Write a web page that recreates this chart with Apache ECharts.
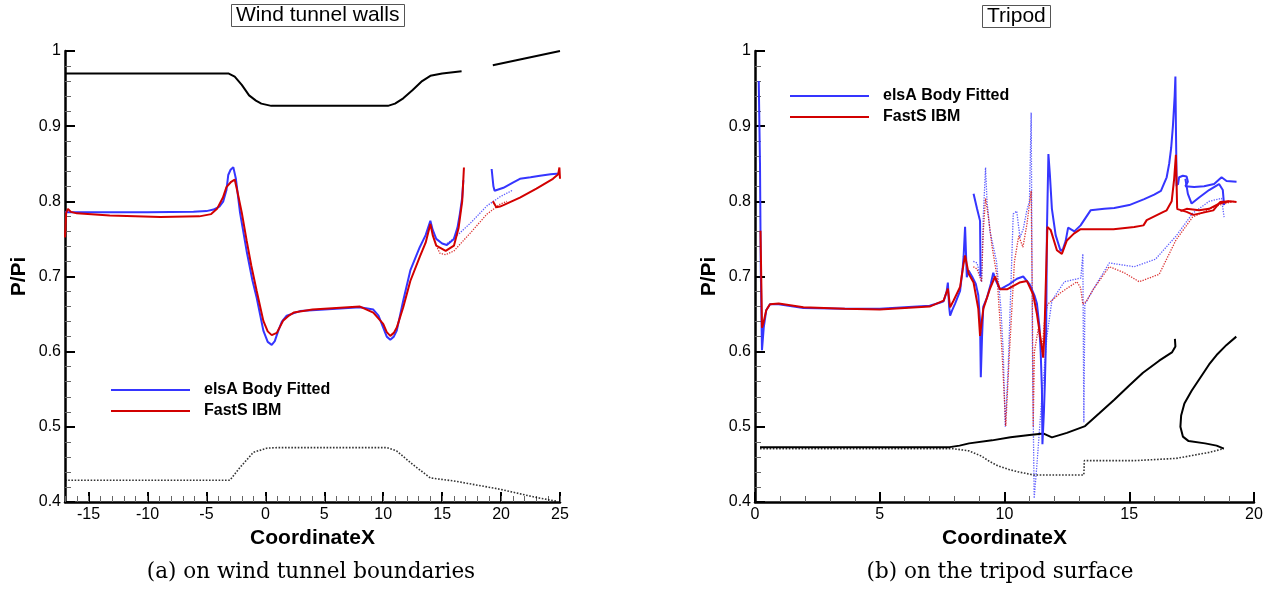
<!DOCTYPE html>
<html>
<head>
<meta charset="utf-8">
<script src="https://cdn.jsdelivr.net/npm/echarts@6/dist/echarts.min.js"></script>
<style>
  html, body { margin: 0; padding: 0; background: #fff; }
  #chart { width: 1282px; height: 596px; }
</style>
</head>
<body>
<div id="chart"></div>
<script>
// P/Pi 分布：左 = 风洞壁面，右 = 三脚架表面

// ---- 左图：wind tunnel walls ----
const wtTopA = [[-17,0.97],[-3.1,0.97],[-2.6,0.966],[-2.0,0.955],[-1.38,0.941],[-0.8,0.934],[-0.34,0.93],[0.5,0.927],[10.4,0.927],[11.0,0.93],[11.7,0.937],[12.5,0.948],[13.3,0.96],[14.0,0.967],[15.0,0.97],[16.65,0.973]];
const wtTopB = [[19.3,0.981],[22,0.99],[25,1.0]];
const wtBottom = [[-17,0.429],[-3.0,0.429],[-2.15,0.446],[-1.02,0.466],[0.11,0.4716],[1,0.4724],[10.28,0.4724],[11.13,0.468],[12.5,0.45],[14.0,0.432],[16,0.428],[19.9,0.417],[23.0,0.406],[24.7,0.401]];

const wtBlueA = [[-17,0.786],[-16.8,0.7855],[-10,0.7855],[-6.1,0.786],[-5,0.787],[-4.4,0.789],[-3.9,0.793],[-3.57,0.8],[-3.3,0.815],[-3.15,0.835],[-2.95,0.842],[-2.72,0.8455],[-2.5,0.83],[-2.15,0.785],[-1.59,0.734],[-1.1,0.695],[-0.74,0.672],[-0.17,0.628],[0.2,0.613],[0.54,0.609],[0.8,0.614],[1.1,0.628],[1.4,0.64],[1.81,0.648],[2.94,0.654],[5,0.656],[8.03,0.659],[9.16,0.656],[9.6,0.648],[10.0,0.632],[10.3,0.62],[10.6,0.616],[10.9,0.62],[11.15,0.628],[11.7,0.668],[12.3,0.708],[13.1,0.739],[13.6,0.755],[14.0,0.774],[14.2,0.762],[14.5,0.75],[15.0,0.744],[15.4,0.742],[16.0,0.75],[16.3,0.765],[16.5,0.783],[16.7,0.805],[16.8,0.828]];
const wtBlueB = [[19.2,0.843],[19.35,0.82],[19.45,0.814],[20.2,0.818],[21.0,0.825],[21.6,0.83],[22.5,0.832],[23.3,0.834],[24.2,0.836],[24.95,0.837]];
const wtRedA = [[-17,0.752],[-16.9,0.785],[-16.75,0.79],[-16.5,0.786],[-16.0,0.784],[-13.2,0.781],[-8.9,0.779],[-5.6,0.78],[-4.6,0.783],[-4.1,0.79],[-3.6,0.805],[-3.3,0.819],[-2.9,0.826],[-2.6,0.829],[-2.4,0.815],[-2.0,0.785],[-1.59,0.748],[-1.2,0.715],[-0.74,0.681],[-0.17,0.641],[0.2,0.627],[0.54,0.622],[0.97,0.625],[1.5,0.641],[2.0,0.648],[2.4,0.652],[4,0.656],[8.03,0.66],[9.16,0.652],[10.0,0.637],[10.3,0.626],[10.6,0.621],[10.9,0.625],[11.15,0.632],[11.7,0.659],[12.3,0.694],[13.1,0.726],[13.6,0.745],[14.0,0.77],[14.2,0.755],[14.5,0.741],[15.3,0.734],[16.0,0.741],[16.4,0.765],[16.7,0.8],[16.85,0.845]];
const wtRedB = [[19.3,0.8],[19.6,0.792],[19.9,0.793],[20.2,0.795],[21.6,0.805],[23.0,0.817],[24.4,0.83],[24.85,0.836],[24.95,0.845],[25.0,0.83]];
const wtBlueDot = [[15.4,0.744],[15.7,0.747],[16.5,0.758],[17.4,0.771],[18.8,0.794],[19.9,0.806],[21.0,0.815]];
const wtRedDot = [[14.6,0.738],[14.8,0.731],[15.3,0.729],[16.0,0.734],[17.4,0.758],[18.8,0.783],[19.9,0.796],[20.5,0.8]];

// ---- 右图：tripod ----
const trBlueA = [[0.15,0.96],[0.2,0.85],[0.23,0.713],[0.28,0.602],[0.35,0.632],[0.45,0.655],[0.6,0.663],[0.95,0.663],[1.94,0.658],[3.6,0.657],[5,0.657],[7.0,0.661],[7.4,0.665],[7.56,0.667],[7.68,0.68],[7.73,0.692],[7.78,0.66],[7.82,0.648],[7.9,0.655],[8.02,0.664],[8.22,0.681],[8.32,0.71],[8.36,0.726],[8.42,0.766],[8.49,0.699],[8.56,0.708],[8.7,0.70],[8.85,0.69],[8.95,0.675],[9.02,0.64],[9.05,0.566],[9.1,0.62],[9.15,0.66],[9.3,0.672],[9.45,0.69],[9.55,0.705],[9.65,0.695],[9.82,0.683],[10.2,0.69],[10.5,0.697],[10.75,0.70],[11.0,0.69],[11.2,0.675],[11.3,0.664],[11.4,0.633],[11.45,0.6],[11.5,0.55],[11.52,0.477],[11.58,0.52],[11.62,0.56],[11.67,0.627],[11.7,0.76],[11.76,0.863],[11.82,0.835],[11.9,0.79],[12.05,0.755],[12.25,0.734],[12.35,0.737],[12.45,0.747],[12.55,0.765],[12.65,0.763],[12.8,0.76],[13.05,0.768],[13.25,0.778],[13.45,0.788],[14.0,0.79],[14.4,0.791],[15.0,0.795],[15.6,0.803],[16.0,0.809],[16.27,0.814],[16.5,0.832],[16.6,0.85],[16.68,0.871],[16.75,0.9],[16.82,0.94],[16.85,0.966],[16.87,0.9],[16.9,0.82]];
const trBlueB = [[8.76,0.81],[8.9,0.79],[9.02,0.774],[9.04,0.7]];
const trBlueC = [[16.95,0.822],[17.0,0.832],[17.15,0.834],[17.3,0.833],[17.35,0.826],[17.25,0.82],[17.6,0.819],[18.0,0.82],[18.4,0.823],[18.7,0.832],[18.9,0.827],[19.3,0.826]];
const trBlueD = [[17.25,0.83],[17.35,0.81],[17.5,0.797],[17.8,0.805],[18.2,0.815],[18.6,0.823],[18.75,0.815],[18.8,0.795]];
const trRedA = [[0.22,0.761],[0.25,0.7],[0.28,0.632],[0.35,0.64],[0.45,0.655],[0.6,0.663],[0.95,0.664],[1.94,0.659],[3.6,0.657],[5,0.656],[7.0,0.66],[7.56,0.668],[7.73,0.684],[7.82,0.659],[7.96,0.668],[8.22,0.686],[8.36,0.717],[8.42,0.728],[8.56,0.704],[8.76,0.692],[8.95,0.657],[9.02,0.621],[9.15,0.657],[9.42,0.684],[9.62,0.7],[9.82,0.683],[10.1,0.683],[10.6,0.692],[10.9,0.694],[11.15,0.676],[11.3,0.65],[11.48,0.61],[11.55,0.592],[11.6,0.623],[11.68,0.72],[11.72,0.766],[11.85,0.762],[12.1,0.735],[12.3,0.73],[12.5,0.748],[12.78,0.757],[13.05,0.763],[14.37,0.763],[15.2,0.766],[15.57,0.768],[15.7,0.775],[16.37,0.786],[16.5,0.788],[16.7,0.8],[16.8,0.83],[16.87,0.862],[16.9,0.82],[16.92,0.79]];
const trRedB = [[16.9,0.79],[17.3,0.786],[17.57,0.782],[18.1,0.786],[18.37,0.788],[18.64,0.799],[19.04,0.8],[19.3,0.799]];
const trRedC = [[17.05,0.787],[17.3,0.79],[17.8,0.788],[18.2,0.79],[18.6,0.797],[19.0,0.8]];
const trBlueDot = [[8.75,0.72],[8.9,0.718],[9.08,0.693],[9.15,0.78],[9.24,0.845],[9.3,0.8],[9.42,0.76],[9.68,0.72],[9.85,0.66],[9.95,0.6],[10.03,0.5],[10.15,0.58],[10.35,0.783],[10.49,0.787],[10.62,0.752],[10.75,0.763],[10.89,0.787],[11.0,0.8],[11.07,0.918],[11.12,0.6],[11.19,0.405],[11.3,0.45],[11.49,0.536],[11.7,0.62],[11.9,0.668],[12.4,0.693],[13.06,0.698],[13.14,0.73],[13.18,0.506],[13.22,0.663],[13.56,0.683],[14.2,0.718],[15.2,0.713],[16.05,0.723],[16.88,0.754],[17.54,0.784],[18.2,0.8],[18.7,0.804],[18.8,0.779]];
const trRedDot = [[8.75,0.713],[8.9,0.71],[9.08,0.693],[9.15,0.76],[9.24,0.804],[9.35,0.78],[9.5,0.74],[9.7,0.7],[9.9,0.6],[10.05,0.501],[10.2,0.6],[10.4,0.72],[10.57,0.754],[10.74,0.739],[10.9,0.77],[11.07,0.814],[11.12,0.65],[11.15,0.5],[11.2,0.6],[11.35,0.63],[11.5,0.6],[11.6,0.64],[11.73,0.663],[12.23,0.678],[12.9,0.693],[13.05,0.685],[13.14,0.663],[13.3,0.668],[13.56,0.683],[14.2,0.713],[14.8,0.705],[15.4,0.693],[16.2,0.703],[16.88,0.749],[17.54,0.779],[18.5,0.794],[19.2,0.8]];
const trBlackA = [[0.2,0.473],[7.8,0.473],[8.2,0.475],[8.58,0.478],[9.5,0.482],[10.24,0.486],[11.0,0.489],[11.57,0.491],[11.9,0.486],[12.5,0.492],[13.23,0.501],[13.8,0.518],[14.4,0.536],[15.0,0.555],[15.55,0.572],[16.2,0.588],[16.71,0.599],[16.85,0.607],[16.83,0.617]];
const trBlackB = [[19.29,0.62],[18.9,0.609],[18.54,0.597],[18.2,0.583],[17.88,0.567],[17.5,0.548],[17.21,0.531],[17.08,0.515],[17.05,0.5],[17.15,0.487],[17.38,0.481],[18.04,0.478],[18.5,0.475],[18.79,0.471]];
const trBlackDot = [[0.2,0.471],[7.92,0.471],[8.58,0.468],[9.08,0.461],[9.4,0.454],[9.74,0.448],[10.2,0.443],[10.57,0.44],[11.15,0.436],[13.18,0.436],[13.2,0.455],[15.2,0.455],[16.88,0.458],[18.2,0.466],[18.79,0.471]];

const BLUE = '#3535ff';
const RED = '#d20000';
const SANS = 'Liberation Sans';
const LEGEND_NAMES = ['elsA Body Fitted', 'FastS IBM'];

function seg(data, color, opts) {
  opts = opts || {};
  return {
    type: 'line',
    name: opts.name,
    data: data,
    xAxisIndex: opts.right ? 2 : 0,
    yAxisIndex: opts.right ? 1 : 0,
    showSymbol: false,
    symbol: 'none',
    animation: false,
    silent: true,
    itemStyle: { color: color },
    lineStyle: { color: color, width: opts.width || 2, type: opts.type || 'solid', opacity: opts.opacity == null ? 1 : opts.opacity }
  };
}
const dot = (d, c, right, w) => seg(d, c, { right, width: w || 1.3, type: 'dotted', opacity: 0.8 });

function yAxisOf(grid) {
  return {
    type: 'value', gridIndex: grid, min: 0.4, max: 1, interval: 0.1,
    name: 'P/Pi', nameLocation: 'middle', nameGap: 46, nameRotate: 90,
    nameTextStyle: { fontFamily: SANS, fontWeight: 'bold', fontSize: 21, color: '#000', verticalAlign: 'middle' },
    axisLine: { show: true, onZero: false, lineStyle: { color: '#000', width: 2.5 } },
    axisTick: { inside: true, length: 10, lineStyle: { color: '#000', width: 2 } },
    minorTick: { show: true, splitNumber: 5, length: 6, lineStyle: { color: '#666', width: 1 } },
    splitLine: { show: false },
    axisLabel: { color: '#000', fontFamily: SANS, fontSize: 16, margin: 4 }
  };
}
const xName = { name: 'CoordinateX', nameLocation: 'middle', nameGap: 29,
  nameTextStyle: { fontFamily: SANS, fontWeight: 'bold', fontSize: 21, color: '#000', verticalAlign: 'middle' } };
const xLine = { show: true, onZero: false, lineStyle: { color: '#000', width: 2.5 } };
const xLabel = { color: '#000', fontFamily: SANS, fontSize: 16, margin: 5 };

function legendAt(left, top) {
  return {
    orient: 'vertical', left: left, top: top, icon: 'rect', itemWidth: 79, itemHeight: 2, itemGap: 5,
    selectedMode: false,
    textStyle: { fontFamily: SANS, fontWeight: 'bold', fontSize: 16, color: '#000', padding: [0, 0, 0, 9] },
    data: [{ name: LEGEND_NAMES[0], itemStyle: { color: BLUE } }, { name: LEGEND_NAMES[1], itemStyle: { color: RED } }]
  };
}

const chart = echarts.init(document.getElementById('chart'), null, { renderer: 'canvas' });
chart.setOption({
  animation: false,
  backgroundColor: '#fff',
  title: [
    { text: 'Wind tunnel walls', left: 231, top: 4, padding: [1, 5], borderWidth: 1, borderColor: '#555',
      textStyle: { fontFamily: SANS, fontWeight: 'normal', fontSize: 21, color: '#000' } },
    { text: 'Tripod', left: 982, top: 5, padding: [1, 5], borderWidth: 1, borderColor: '#555',
      textStyle: { fontFamily: SANS, fontWeight: 'normal', fontSize: 21, color: '#000' } },
    { text: '(a) on wind tunnel boundaries', left: 311, top: 561, textAlign: 'center', padding: 0,
      textStyle: { fontFamily: 'DejaVu Serif', fontWeight: 'normal', fontSize: 21.5, color: '#000' } },
    { text: '(b) on the tripod surface', left: 1000, top: 561, textAlign: 'center', padding: 0,
      textStyle: { fontFamily: 'DejaVu Serif', fontWeight: 'normal', fontSize: 21.5, color: '#000' } }
  ],
  legend: [legendAt(106, 377), legendAt(785, 83)],
  grid: [
    { left: 65, top: 51, width: 495, height: 451 },
    { left: 755, top: 51, width: 499, height: 451 }
  ],
  xAxis: [
    // 左图主轴：min -17 不是 5 的倍数，用 min/maxInterval 固定刻度间隔
    Object.assign({ type: 'value', gridIndex: 0, min: -17, max: 25, minInterval: 5, maxInterval: 5, position: 'bottom',
      axisLine: xLine, axisTick: { inside: true, length: 10, lineStyle: { color: '#000', width: 2 } },
      axisLabel: Object.assign({ showMinLabel: false }, xLabel), splitLine: { show: false } }, xName),
    // 左图次刻度（每 1 个单位）
    { type: 'value', gridIndex: 0, min: -17, max: 25, interval: 1, position: 'bottom',
      axisLine: { show: false }, axisLabel: { show: false }, splitLine: { show: false },
      axisTick: { inside: true, length: 6, lineStyle: { color: '#666', width: 1 } } },
    Object.assign({ type: 'value', gridIndex: 1, min: 0, max: 20, interval: 5, position: 'bottom',
      axisLine: xLine, axisTick: { inside: true, length: 10, lineStyle: { color: '#000', width: 2 } },
      minorTick: { show: true, splitNumber: 5, length: 6, lineStyle: { color: '#666', width: 1 } },
      axisLabel: xLabel, splitLine: { show: false } }, xName)
  ],
  yAxis: [yAxisOf(0), yAxisOf(1)],
  series: [
    // left
    seg(wtTopA, '#000'), seg(wtTopB, '#000'),
    dot(wtBottom, '#000', false, 1.6),
    dot(wtBlueDot, BLUE, false), dot(wtRedDot, RED, false),
    seg(wtBlueA, BLUE, { name: LEGEND_NAMES[0] }), seg(wtBlueB, BLUE),
    seg(wtRedA, RED, { name: LEGEND_NAMES[1] }), seg(wtRedB, RED),
    // right
    dot(trBlueDot, BLUE, true), dot(trRedDot, RED, true),
    seg(trBlackA, '#000', { right: true }), seg(trBlackB, '#000', { right: true }),
    dot(trBlackDot, '#000', true, 1.6),
    seg(trBlueA, BLUE, { right: true }), seg(trBlueB, BLUE, { right: true }),
    seg(trBlueC, BLUE, { right: true }), seg(trBlueD, BLUE, { right: true }),
    seg(trRedA, RED, { right: true }), seg(trRedB, RED, { right: true }), seg(trRedC, RED, { right: true })
  ]
});
</script>
</body>
</html>
